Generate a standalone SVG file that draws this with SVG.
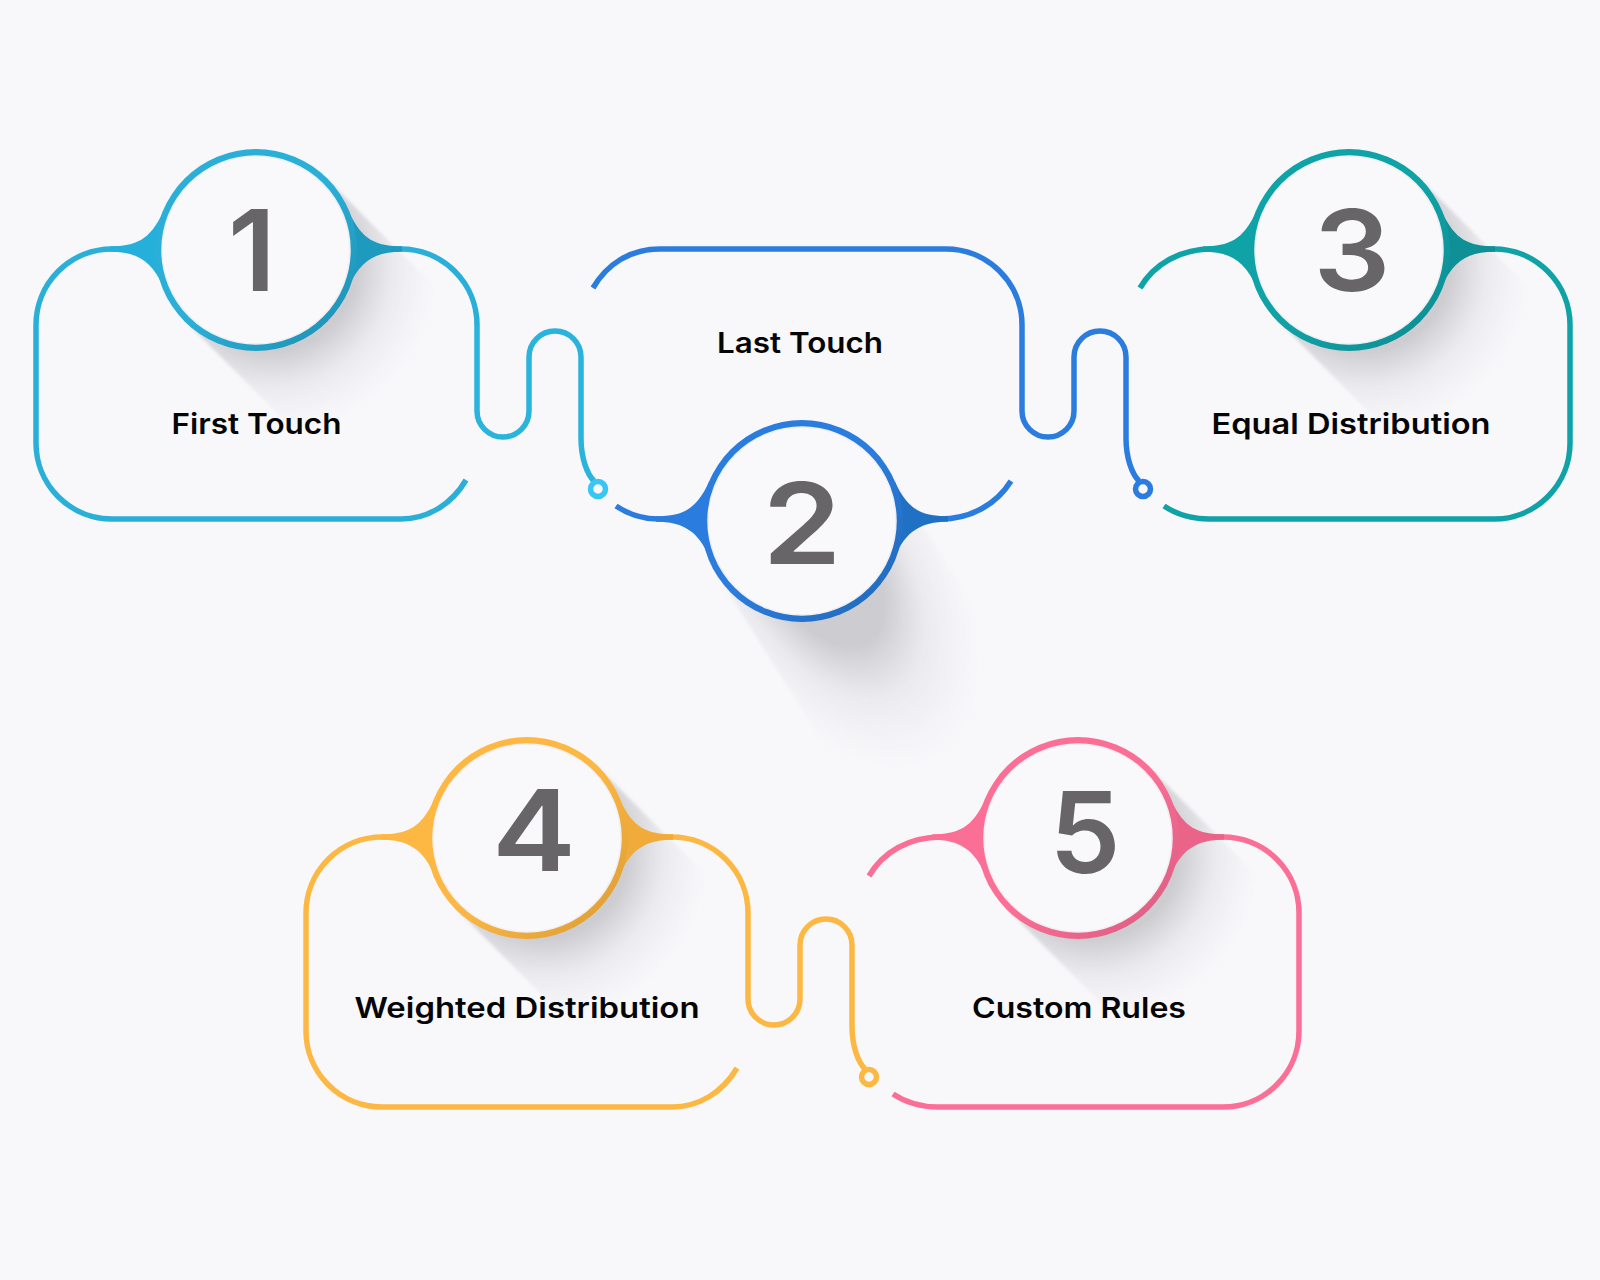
<svg xmlns="http://www.w3.org/2000/svg" width="1600" height="1280" viewBox="0 0 1600 1280">
<style>
.fr{fill:none;stroke-width:5.5;stroke-linecap:butt}
.con{fill:none;stroke-width:5.5}
.dot{fill:#f8f7fa;stroke-width:5.5}
.face{fill:#f9f8fb;stroke:#f0eff3;stroke-width:1.5}
.num{font-family:Inter,"Liberation Sans",sans-serif;font-weight:600;font-size:113px;fill:#676568;text-anchor:middle}
.lab{font-family:Inter,"Liberation Sans",sans-serif;font-weight:600;font-size:28.5px;fill:#050505;text-anchor:middle}
.sh{filter:url(#soft)}
</style>
<defs>
<filter id="soft" x="-10%" y="-10%" width="120%" height="120%"><feGaussianBlur stdDeviation="1.5"/></filter>
<radialGradient id="sh1" gradientUnits="userSpaceOnUse" cx="15" cy="15" r="170"><stop offset="0.5" stop-color="#85858b" stop-opacity=".38"/><stop offset="0.72" stop-color="#9a9aa0" stop-opacity=".14"/><stop offset="1" stop-color="#c0c0c6" stop-opacity="0"/></radialGradient>
<radialGradient id="sh2" gradientUnits="userSpaceOnUse" cx="0" cy="0" r="1" gradientTransform="translate(15,40) rotate(58) scale(235,130)"><stop offset="0.4" stop-color="#85858b" stop-opacity=".38"/><stop offset="0.65" stop-color="#9a9aa0" stop-opacity=".14"/><stop offset="1" stop-color="#c0c0c6" stop-opacity="0"/></radialGradient>
<linearGradient id="g1" x1="0" y1="0" x2="1" y2="1"><stop offset=".5" stop-color="#2ab0d8"/><stop offset="1" stop-color="#1c8caf"/></linearGradient>
<linearGradient id="g2" x1="0" y1="0" x2="1" y2="1"><stop offset=".5" stop-color="#2a7dde"/><stop offset="1" stop-color="#1f67b5"/></linearGradient>
<linearGradient id="g3" x1="0" y1="0" x2="1" y2="1"><stop offset=".5" stop-color="#0fa3a8"/><stop offset="1" stop-color="#0d8a90"/></linearGradient>
<linearGradient id="g4" x1="0" y1="0" x2="1" y2="1"><stop offset=".5" stop-color="#fdb843"/><stop offset="1" stop-color="#d99a32"/></linearGradient>
<linearGradient id="g5" x1="0" y1="0" x2="1" y2="1"><stop offset=".5" stop-color="#fb6f96"/><stop offset="1" stop-color="#d95a7f"/></linearGradient>
<path id="blobL" d="M-146,-3.75 C-120,-3.75 -106,-10 -93,-38 L-93,36 C-104,12 -118,1.75 -146,1.75 Z"/>
<path id="blobR" d="M146,-3.75 C120,-3.75 106,-10 93,-38 L93,36 C104,12 118,1.75 146,1.75 Z"/>
<path id="band1" d="M-71,71 L129,271 L271,129 L71,-71 Z"/>
<path id="band2" d="M-85,53 L75,309 L245,203 L85,-53 Z"/>
</defs>
<rect width="1600" height="1280" fill="#f8f7fa"/>

<g id="connectors">
<path class="con" stroke="#2ab3dc" d="M477,325 V411 A26,26 0 0 0 529,411 V357 A26,26 0 0 1 581,357 V438 C581,458 587,474 594,481"/>
<circle class="dot" stroke="#3ac6f4" cx="598" cy="489" r="7.5"/>
<path class="con" stroke="#2a7dde" d="M1022,325 V411 A26,26 0 0 0 1074,411 V357 A26,26 0 0 1 1126,357 V438 C1126,458 1132,474 1139,481"/>
<circle class="dot" stroke="#2a7dde" cx="1143" cy="489" r="7.5"/>
<path class="con" stroke="#fdb843" d="M748,913 V999 A26,26 0 0 0 800,999 V945 A26,26 0 0 1 852,945 V1026 C852,1046 858,1062 865,1069"/>
<circle class="dot" stroke="#fdb843" cx="869" cy="1077" r="7.5"/>
</g>

<g id="node-1">
<g class="sh" transform="translate(256,250)"><use href="#band1" fill="url(#sh1)"/></g>
<path class="fr" stroke="#2ab0d8" d="M466,480 C452,504 428,519 401,519 H112 A76,76 0 0 1 36,443 V325 A76,76 0 0 1 112,249 H401 A76,76 0 0 1 477,325"/>
<g fill="url(#g1)" transform="translate(256,250)"><use href="#blobL" fill="#25b0dc"/><use href="#blobR" fill="#1f9abf"/><circle r="101"/></g>
<circle class="face" cx="256" cy="250" r="94"/>
<text class="num" x="252" y="291">1</text>
<text class="lab" x="256.5" y="434" textLength="170" lengthAdjust="spacingAndGlyphs">First Touch</text>
</g>

<g id="node-2">
<g class="sh" transform="translate(802,521)"><use href="#band2" fill="url(#sh2)"/></g>
<path class="fr" stroke="#2a7dde" d="M593,288 C607,264 630,249 660,249 H946 A76,76 0 0 1 1022,325"/>
<path class="fr" stroke="#2a7dde" d="M616,506 C628,514 642,519 658,519 H940 C970,519 996,505 1011,481"/>
<g fill="url(#g2)" transform="translate(802,521)"><use href="#blobL" y="-1" fill="#2a7dde"/><use href="#blobR" y="-1" fill="#2070c4"/><circle r="101"/></g>
<circle class="face" cx="802" cy="521" r="94"/>
<text class="num" x="802" y="564" textLength="79" lengthAdjust="spacingAndGlyphs">2</text>
<text class="lab" x="800" y="353" textLength="166" lengthAdjust="spacingAndGlyphs">Last Touch</text>
</g>

<g id="node-3">
<g class="sh" transform="translate(1349,250)"><use href="#band1" fill="url(#sh1)"/></g>
<path class="fr" stroke="#0fa3a8" d="M1140,288 C1154,264 1180,249 1212,249 H1494 A76,76 0 0 1 1570,325 V443 A76,76 0 0 1 1494,519 H1209 C1192,519 1176,514 1164,506"/>
<g fill="url(#g3)" transform="translate(1349,250)"><use href="#blobL" fill="#0fa3a8"/><use href="#blobR" fill="#0e9096"/><circle r="101"/></g>
<circle class="face" cx="1349" cy="250" r="94"/>
<text class="num" x="1352" y="291" textLength="77" lengthAdjust="spacingAndGlyphs">3</text>
<text class="lab" x="1351" y="434" textLength="279" lengthAdjust="spacingAndGlyphs">Equal Distribution</text>
</g>

<g id="node-4">
<g class="sh" transform="translate(527,838)"><use href="#band1" fill="url(#sh1)"/></g>
<path class="fr" stroke="#fdb843" d="M737,1068 C723,1092 699,1107 672,1107 H382 A76,76 0 0 1 306,1031 V913 A76,76 0 0 1 382,837 H672 A76,76 0 0 1 748,913"/>
<g fill="url(#g4)" transform="translate(527,838)"><use href="#blobL" fill="#fdb843"/><use href="#blobR" fill="#f0ab3b"/><circle r="101"/></g>
<circle class="face" cx="527" cy="838" r="94"/>
<text class="num" x="534" y="871" textLength="84" lengthAdjust="spacingAndGlyphs">4</text>
<text class="lab" x="527" y="1018" textLength="345" lengthAdjust="spacingAndGlyphs">Weighted Distribution</text>
</g>

<g id="node-5">
<g class="sh" transform="translate(1078,838)"><use href="#band1" fill="url(#sh1)"/></g>
<path class="fr" stroke="#fb6f96" d="M869,876 C883,852 909,837 941,837 H1223 A76,76 0 0 1 1299,913 V1031 A76,76 0 0 1 1223,1107 H938 C921,1107 905,1102 893,1094"/>
<g fill="url(#g5)" transform="translate(1078,838)"><use href="#blobL" fill="#fb6f96"/><use href="#blobR" fill="#ea6389"/><circle r="101"/></g>
<circle class="face" cx="1078" cy="838" r="94"/>
<text class="num" x="1085" y="873">5</text>
<text class="lab" x="1079" y="1018" textLength="214" lengthAdjust="spacingAndGlyphs">Custom Rules</text>
</g>
</svg>
